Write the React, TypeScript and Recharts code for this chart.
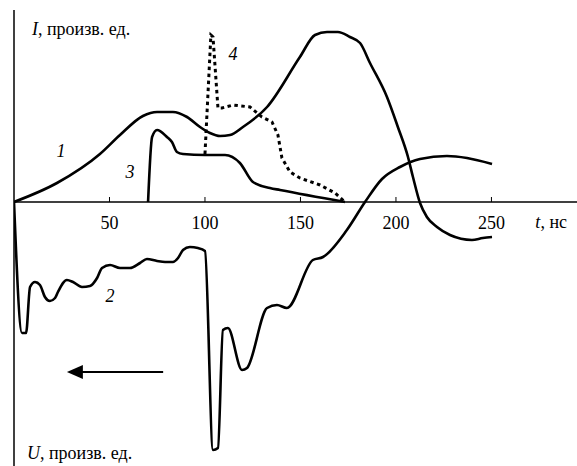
import React from "react";
import { LineChart, Line, XAxis, YAxis, ReferenceLine, ReferenceDot } from "recharts";

// --- values (t in ns, amplitudes in arbitrary units) ---
const curve1T = [0, 22.5, 45.0, 55.5, 67.5, 74.9, 83.2, 90.6, 97.4, 102.6, 107.9, 113.1, 119.9, 132.5, 149.7, 157.6, 163.9, 169.6, 175.9, 181.2, 186.4, 195.3, 201.0, 206.3, 208.9, 212.6, 216.2, 221.5, 228.3, 239.8, 245.5, 250.3];
const curve1I = [0, 1.9, 4.8, 6.7, 8.6, 9.0, 9.0, 8.5, 7.5, 6.9, 6.6, 6.7, 7.5, 9.5, 14.5, 16.7, 17.0, 17.0, 16.5, 15.9, 13.9, 10.5, 7.5, 4.5, 2.5, -0.1, -1.5, -2.5, -3.3, -3.8, -3.6, -3.5];

const curve2T = [0, 4.2, 6.3, 8.4, 11.0, 13.6, 16.2, 18.8, 21.5, 23.0, 27.7, 30.9, 35.6, 39.8, 43.5, 46.1, 50.3, 55.5, 60.7, 66.0, 69.6, 74.9, 79.1, 83.2, 85.9, 88.5, 92.1, 96.3, 100.0, 104.2, 106.8, 109.4, 112.0, 119.4, 122.0, 132.5, 137.7, 142.9, 156.5, 161.8, 174.3, 183.8, 192.7, 202.1, 212.6, 226.7, 237.2, 250.3];
const curve2U = [0, -13.1, -13.1, -8.5, -8.0, -8.3, -9.5, -9.9, -9.6, -9.0, -7.8, -8.0, -8.5, -8.4, -7.6, -6.6, -6.3, -6.6, -6.6, -6.1, -5.7, -5.9, -6.0, -6.0, -5.6, -4.8, -4.5, -4.6, -4.9, -24.8, -24.6, -12.8, -12.6, -16.8, -16.6, -10.6, -10.3, -10.6, -5.8, -5.5, -2.8, 0, 2.3, 3.5, 4.3, 4.6, 4.4, 3.8];

const curve3T = [70.2, 72.3, 74.9, 80.1, 82.7, 85.3, 88.5, 100.0, 110.5, 118.3, 125.1, 134.0, 139.3, 173.3];
const curve3I = [0, 6.5, 7.2, 6.5, 6.0, 5.0, 4.8, 4.7, 4.7, 3.9, 2.0, 1.4, 1.2, 0];

const curve4T = [100.0, 103.1, 104.2, 106.8, 108.9, 114.7, 123.6, 129.8, 135.1, 138.2, 140.3, 144.5, 149.7, 160.2, 168.1, 173.3];
const curve4I = [4.8, 16.7, 16.5, 9.4, 9.4, 9.7, 9.5, 8.5, 8.0, 6.7, 4.4, 3.0, 2.4, 1.7, 0.9, 0];

const timeTicks = [50, 100, 150, 200, 250];

const T_MAX = 294.8;
const V_MIN = -26.4;
const V_MAX = 20.2;

const FONT = "'Liberation Serif', 'DejaVu Serif', serif";

const zip = (ts: number[], vs: number[]) => ts.map((t, i) => ({ t, v: vs[i] }));

const data1 = zip(curve1T, curve1I);
const data2 = zip(curve2T, curve2U);
const data3 = zip(curve3T, curve3I);
const data4 = zip(curve4T, curve4I);

// text placed at a data coordinate (x = t, y = amplitude)
function textAt(
  key: string,
  x: number,
  y: number,
  content: React.ReactNode,
  anchor: "start" | "middle" | "end" = "start",
  italic = false
) {
  return (
    <ReferenceDot
      key={key}
      x={x}
      y={y}
      r={0}
      ifOverflow="visible"
      shape={(p: any) => (
        <text
          x={p.cx}
          y={p.cy}
          textAnchor={anchor}
          fontFamily={FONT}
          fontSize={18}
          fontStyle={italic ? "italic" : "normal"}
          fill="#000"
        >
          {content}
        </text>
      )}
    />
  );
}

export default function App() {
  return (
    <div style={{ position: "absolute", left: 0, top: 0, width: 577, height: 466, background: "#fff" }}>
      <LineChart width={577} height={466} margin={{ top: 0, right: 0, bottom: 0, left: 14 }}>
        <XAxis type="number" dataKey="t" domain={[0, T_MAX]} hide allowDataOverflow />
        <YAxis type="number" domain={[V_MIN, V_MAX]} hide width={0} allowDataOverflow />

        {/* axes drawn through the middle */}
        <ReferenceLine y={0} stroke="#000" strokeWidth={1.5} />
        <ReferenceLine segment={[{ x: 0, y: V_MIN }, { x: 0, y: 19.2 }]} stroke="#000" strokeWidth={1.5} />
        {timeTicks.map((t) => (
          <ReferenceLine key={`tk-${t}`} segment={[{ x: t, y: 0 }, { x: t, y: 0.5 }]} stroke="#000" strokeWidth={1} />
        ))}
        {timeTicks.map((t) => textAt(`tl-${t}`, t, -2.7, String(t), "middle"))}

        <Line data={data1} dataKey="v" type="monotone" stroke="#000" strokeWidth={2.6} dot={false} isAnimationActive={false} />
        <Line data={data2} dataKey="v" type="monotone" stroke="#000" strokeWidth={2.6} dot={false} isAnimationActive={false} />
        <Line data={data3} dataKey="v" type="monotone" stroke="#000" strokeWidth={2.6} dot={false} isAnimationActive={false} />
        <Line data={data4} dataKey="v" type="linear" stroke="#000" strokeWidth={3} strokeDasharray="3.5 3.5" dot={false} isAnimationActive={false} />

        {/* arrow */}
        <ReferenceLine segment={[{ x: 35.6, y: -17 }, { x: 78.1, y: -17 }]} stroke="#000" strokeWidth={2} />
        <ReferenceDot
          x={27.7}
          y={-17}
          r={0}
          shape={(p: any) => <path d={`M${p.cx},${p.cy} L${p.cx + 16},${p.cy - 7} L${p.cx + 16},${p.cy + 7} Z`} fill="#000" />}
        />

        {textAt("ylab-i", 9.4, 16.7, <><tspan fontStyle="italic">I</tspan>, произв. ед.</>)}
        {textAt("ylab-u", 6.8, -25.7, <><tspan fontStyle="italic">U</tspan>, произв. ед.</>)}
        {/* pulled in a little so the unit is not cut at the right edge */}
        {textAt("xlab", 273.0, -2.6, <><tspan fontStyle="italic">t</tspan>, нс</>)}

        {textAt("n1", 24.6, 4.5, "1", "middle", true)}
        {textAt("n2", 50.3, -10.0, "2", "middle", true)}
        {textAt("n3", 60.7, 2.4, "3", "middle", true)}
        {textAt("n4", 114.7, 14.2, "4", "middle", true)}
      </LineChart>
    </div>
  );
}
